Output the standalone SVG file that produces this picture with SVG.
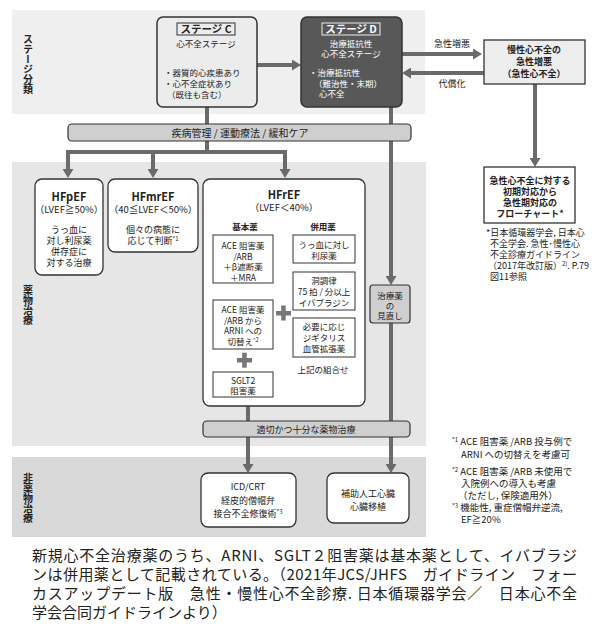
<svg xmlns="http://www.w3.org/2000/svg" width="600" height="630" viewBox="0 0 600 630">
<style>
text{font-family:"Noto Sans CJK JP","Noto Sans",sans-serif;fill:#222;}
.c{text-anchor:middle;}
.s8{font-size:8.5px;}
.s9{font-size:9px;}
.s10{font-size:10px;}
.b{font-weight:bold;}
text.w{fill:#fff;}
.vt{writing-mode:vertical-rl;font-size:10px;font-weight:bold;}
.box{fill:#fff;stroke:#333;stroke-width:1.3;}
.ibox{fill:#fff;stroke:#333;stroke-width:1;}
.bar{fill:#cfcfcf;stroke:#333;stroke-width:1.2;}
.con{stroke:#6a6a6a;stroke-width:4;fill:none;}
.plus{fill:#777;}
</style>
<defs>
<marker id="ah" markerWidth="9" markerHeight="11" refX="0" refY="5.5" orient="auto" markerUnits="userSpaceOnUse">
<path d="M0,0 L9,5.5 L0,11 z" fill="#6a6a6a"/>
</marker>
</defs>
<rect width="600" height="630" fill="#fff"/>
<g id="bands">
<rect x="12" y="10" width="413" height="104" fill="#efefef"/>
<rect x="12" y="162" width="414" height="284" fill="#e6e6e6"/>
<rect x="12" y="457" width="414" height="80" fill="#d9d9d9"/>
</g>
<g id="band-labels">
<text class="vt" x="28" y="34">ステージ分類</text>
<text class="vt" x="28" y="285">薬物治療</text>
<text class="vt" x="28" y="473">非薬物治療</text>
</g>
<g id="connectors">
<path class="con" d="M257,65 H292" marker-end="url(#ah)"/>
<path class="con" d="M402,54 H473" marker-end="url(#ah)"/>
<path class="con" d="M484,73 H411" marker-end="url(#ah)"/>
<path class="con" d="M535,84 V158" marker-end="url(#ah)"/>
<path class="con" d="M207,107 V152"/>
<path class="con" d="M68,152 H285"/>
<path class="con" d="M68,150 V169" marker-end="url(#ah)"/>
<path class="con" d="M153,152 V169" marker-end="url(#ah)"/>
<path class="con" d="M285,150 V169" marker-end="url(#ah)"/>
<path class="con" d="M391,107 V276" marker-end="url(#ah)"/>
<path class="con" d="M391,323 V464" marker-end="url(#ah)"/>
<path class="con" d="M248,406 V464" marker-end="url(#ah)"/>
<path class="con" d="M243,283 V291" marker-end="url(#ah)"/>
</g>
<g id="stageC">
<rect x="157" y="17" width="100" height="90" rx="6" fill="#ececec" stroke="#333" stroke-width="1.5"/>
<rect x="177" y="23" width="58" height="12" fill="#ececec" stroke="#333" stroke-width="1"/>
<text class="c b" x="206" y="33" style="font-size:10.5px">ステージ C</text>
<text class="c s8" x="206" y="47">心不全ステージ</text>
<text class="s8" x="164" y="76">・器質的心疾患あり</text>
<text class="s8" x="164" y="87">・心不全症状あり</text>
<text class="s8" x="167" y="98">（既往も含む）</text>
</g>
<g id="stageD">
<rect x="301" y="17" width="101" height="90" rx="6" fill="#585858" stroke="#333" stroke-width="1.5"/>
<rect x="322" y="23" width="58" height="12" fill="#585858" stroke="#eee" stroke-width="1"/>
<text class="c b w" x="351" y="33" style="font-size:10.5px">ステージ D</text>
<text class="c s8 w" x="351" y="47">治療抵抗性</text>
<text class="c s8 w" x="351" y="57">心不全ステージ</text>
<text class="s8 w" x="309" y="76">・治療抵抗性</text>
<text class="s8 w" x="314" y="87">（難治性・末期）</text>
<text class="s8 w" x="319" y="97">心不全</text>
</g>
<g id="arrow-labels">
<text class="c s9" x="452" y="47">急性増悪</text>
<text class="c s9" x="452" y="87">代償化</text>
</g>
<g id="acute">
<rect x="484" y="40" width="101" height="44" fill="#ededed" stroke="#333" stroke-width="1.3"/>
<text class="c s9 b" x="534" y="53">慢性心不全の</text>
<text class="c s9 b" x="534" y="65">急性増悪</text>
<text class="c s9 b" x="534" y="77">（急性心不全）</text>
</g>
<g id="flowchart">
<rect x="484" y="167" width="91" height="56" fill="#fff" stroke="#333" stroke-width="1.3"/>
<text class="c s9 b" x="530" y="184">急性心不全に対する</text>
<text class="c s9 b" x="530" y="195">初期対応から</text>
<text class="c s9 b" x="530" y="206">急性期対応の</text>
<text class="c s9 b" x="530" y="217">フローチャート*</text>
</g>
<g id="flow-note">
<text class="s9" x="486" y="236">*日本循環器学会, 日本心</text>
<text class="s9" x="490" y="247">不全学会. 急性･慢性心</text>
<text class="s9" x="490" y="258">不全診療ガイドライン</text>
<text class="s9" x="488" y="269">（2017年改訂版）<tspan style="font-size:6px" dy="-3">2)</tspan><tspan dy="3">. P.79</tspan></text>
<text class="s9" x="490" y="280">図11参照</text>
</g>
<g id="bar-care">
<rect class="bar" x="68" y="124" width="343" height="17" rx="4"/>
<text class="c s10" x="240" y="136.5">疾病管理 / 運動療法 / 緩和ケア</text>
</g>
<g id="hfpef">
<rect class="box" x="35" y="179" width="68" height="96" rx="7"/>
<text class="c b" x="69" y="201" style="font-size:11px">HFpEF</text>
<text class="c" x="69" y="213" style="font-size:9.5px">（LVEF≧50%）</text>
<text class="c s9" x="69" y="233">うっ血に</text>
<text class="c s9" x="69" y="244">対し利尿薬</text>
<text class="c s9" x="69" y="255">併存症に</text>
<text class="c s9" x="69" y="266">対する治療</text>
</g>
<g id="hfmref">
<rect class="box" x="108" y="179" width="90" height="73" rx="7"/>
<text class="c b" x="153" y="201" style="font-size:11px">HFmrEF</text>
<text class="c" x="153" y="213" style="font-size:9.5px">（40≦LVEF＜50%）</text>
<text class="c s9" x="153" y="233">個々の病態に</text>
<text class="c s9" x="153" y="244">応じて判断<tspan style="font-size:6px" dy="-3">*1</tspan></text>
</g>
<g id="hfref">
<rect class="box" x="203" y="179" width="162" height="227" rx="7"/>
<text class="c b" x="284" y="199" style="font-size:11px">HFrEF</text>
<text class="c" x="284" y="211" style="font-size:9.5px">（LVEF＜40%）</text>
<text class="c s8 b" x="245" y="230">基本薬</text>
<text class="c s8 b" x="323" y="230">併用薬</text>
<text class="c s8" x="323" y="373">上記の組合せ</text>
<rect class="plus" x="276" y="311" width="15" height="4.5"/>
<rect class="plus" x="281.2" y="305.5" width="4.5" height="15"/>
<rect class="plus" x="237" y="358" width="15" height="4.5"/>
<rect class="plus" x="242.2" y="352.7" width="4.5" height="15"/>
</g>
<g id="basic1">
<rect class="ibox" x="213" y="235" width="60" height="48"/>
<text class="c s8" x="243" y="249">ACE 阻害薬</text>
<text class="c s8" x="243" y="259.5">/ARB</text>
<text class="c s8" x="243" y="270">＋β遮断薬</text>
<text class="c s8" x="243" y="280.5">＋MRA</text>
</g>
<g id="basic2">
<rect class="ibox" x="213" y="300" width="60" height="49"/>
<text class="c s8" x="243" y="313">ACE 阻害薬</text>
<text class="c s8" x="243" y="323.5">/ARB から</text>
<text class="c s8" x="243" y="334">ARNI への</text>
<text class="c s8" x="243" y="344.5">切替え<tspan style="font-size:5.5px" dy="-3">*2</tspan></text>
</g>
<g id="basic3">
<rect class="ibox" x="213" y="372" width="60" height="25"/>
<text class="c s8" x="243" y="383.5">SGLT2</text>
<text class="c s8" x="243" y="394">阻害薬</text>
</g>
<g id="comb1">
<rect class="ibox" x="293" y="235" width="62" height="28"/>
<text class="c s8" x="324" y="247.5">うっ血に対し</text>
<text class="c s8" x="324" y="258.5">利尿薬</text>
</g>
<g id="comb2">
<rect class="ibox" x="293" y="272" width="62" height="38"/>
<text class="c s8" x="324" y="284">洞調律</text>
<text class="c s8" x="324" y="295">75 拍 / 分以上</text>
<text class="c s8" x="324" y="306">イバブラジン</text>
</g>
<g id="comb3">
<rect class="ibox" x="293" y="318" width="62" height="39"/>
<text class="c s8" x="324" y="330">必要に応じ</text>
<text class="c s8" x="324" y="341">ジギタリス</text>
<text class="c s8" x="324" y="352">血管拡張薬</text>
</g>
<g id="review">
<rect x="370" y="285" width="40" height="38" rx="3" fill="#cfcfcf" stroke="#333" stroke-width="1.2"/>
<text class="c s8" x="390" y="298.5">治療薬</text>
<text class="c s8" x="390" y="308.5">の</text>
<text class="c s8" x="390" y="318.5">見直し</text>
</g>
<g id="bar-drug">
<rect class="bar" x="203" y="421" width="207" height="16" rx="4"/>
<text class="c s9" x="306" y="432.5">適切かつ十分な薬物治療</text>
</g>
<g id="icd">
<rect class="box" x="201" y="473" width="95" height="54" rx="7"/>
<text class="c s9" x="248" y="490">ICD/CRT</text>
<text class="c s9" x="248" y="504">経皮的僧帽弁</text>
<text class="c s9" x="248" y="517">接合不全修復術<tspan style="font-size:6px" dy="-3">*3</tspan></text>
</g>
<g id="vad">
<rect class="box" x="327" y="473" width="82" height="50" rx="7"/>
<text class="c s9" x="368" y="497">補助人工心臓</text>
<text class="c s9" x="368" y="510">心臓移植</text>
</g>
<g id="footnotes">
<text x="452" y="445" style="font-size:9.5px"><tspan style="font-size:6px" dy="-3">*1</tspan><tspan dy="3"> ACE 阻害薬 /ARB 投与例で</tspan></text>
<text x="461" y="458" style="font-size:9.5px">ARNI への切替えを考慮可</text>
<text x="452" y="475" style="font-size:9.5px"><tspan style="font-size:6px" dy="-3">*2</tspan><tspan dy="3"> ACE 阻害薬 /ARB 未使用で</tspan></text>
<text x="461" y="487" style="font-size:9.5px">入院例への導入も考慮</text>
<text x="458" y="499" style="font-size:9.5px">（ただし, 保険適用外）</text>
<text x="452" y="511" style="font-size:9.5px"><tspan style="font-size:6px" dy="-3">*3</tspan><tspan dy="3"> 機能性, 重症僧帽弁逆流,</tspan></text>
<text x="461" y="523" style="font-size:9.5px">EF≧20%</text>
</g>
<g id="caption">
<text x="32" y="561" style="font-size:15px" textLength="545" lengthAdjust="spacing">新規心不全治療薬のうち、ARNI、SGLT２阻害薬は基本薬として、イバブラジ</text>
<text x="32" y="580" style="font-size:15px" textLength="545" lengthAdjust="spacing">ンは併用薬として記載されている。（2021年JCS/JHFS　ガイドライン　フォー</text>
<text x="32" y="599" style="font-size:15px" textLength="545" lengthAdjust="spacing">カスアップデート版　急性・慢性心不全診療. 日本循環器学会／　日本心不全</text>
<text x="32" y="618" style="font-size:15px">学会合同ガイドラインより）</text>
</g>
</svg>
